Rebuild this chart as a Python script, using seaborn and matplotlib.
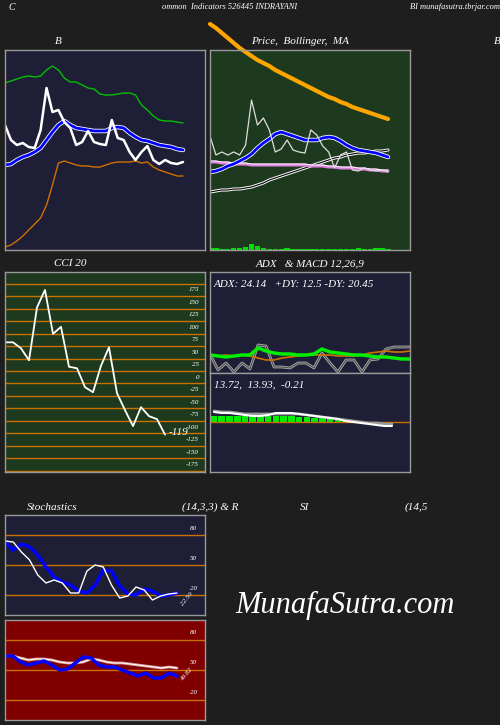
import matplotlib
matplotlib.use("Agg")
import matplotlib.pyplot as plt
import seaborn as sns
import numpy as np
import pandas as pd

sns.set_theme(style="dark")
plt.rcParams['font.family'] = ['Liberation Serif', 'DejaVu Serif']

# ---------------- data ----------------
boll_price = [125,110,105,107,103,102,120,162,138,140,128,122,105,108,119,108,106,105,130,112,110,98,90,98,104,90,86,90,87,86,88]
boll_upper = [167,169,171,173,174,173,174,180,184,180,172,168,168,165,162,161,156,155,155,156,157,157,155,145,140,134,130,129,129,128,127]
boll_mid = [85,86,90,93,95,98,102,110,118,125,129,125,122,121,120,119,119,119,122,123,122,117,113,110,109,107,105,104,103,101,100]
boll_lower = [3,5,9,14,20,26,32,45,65,87,89,87,85,84,84,83,83,85,87,88,88,88,89,87,88,83,80,78,76,74,74]

pr_price = [114,95,98,95,98,95,105,150,125,132,120,98,101,110,100,98,97,120,115,104,98,82,95,98,80,79,82,80,79,80,78]
pr_ma_long = [226,222,217,212,207,202,198,194,190,187,184,180,177,174,171,168,165,162,159,156,153,151,148,146,143,141,139,137,135,133,131]
pr_ma_mid = [78,79,81,84,86,89,92,96,102,107,111,116,118,116,114,112,110,110,110,112,113,112,109,105,102,100,99,98,97,95,93]
pr_ma_pink = [88,88,87,87,86,86,86,85,85,85,85,85,85,85,85,85,85,84,84,84,83,83,82,82,82,81,81,80,80,79,79]
pr_ma_black = [58,59,60,60,61,61,62,63,65,67,70,72,74,76,78,80,82,84,86,88,90,92,93,95,96,97,97,98,99,99,100]
volume = [2,2,1,1,2,2,3,6,4,2,1,1,1,2,1,1,1,1,1,1,1,1,1,1,1,2,1,1,2,2,1]

cci = [70,70,58,34,140,175,87,101,21,18,-20,-30,23,60,-32,-66,-98,-60,-78,-84,-115]
cci_ticks = [175,150,125,100,75,50,25,0,-25,-50,-75,-100,-125,-150,-175]

adx_dx = [19,3,10,1,10,4,28,27,6,6,5,10,10,5,20,10,1,13,13,1,13,14,24,26,26,26]
adx_green = [18,17,16,17,18,18,25,22,20,19,19,18,18,19,24,21,20,19,18,18,17,16,16,15,14,14]
adx_orange = [17,17,18,17,18,17,15,13,13,15,16,17,18,18,18,18,17,17,17,18,20,21,22,21,21,22]

macd = [10,9,9,8,7,6,6,7,9,9,9,8,7,6,5,4,3,1,0,-1,-2,-3,-4,-4]
macd_signal = [11,10,10,9,8,8,8,8,8,8,8,8,7,6,5,4,3,2,1,0,-1,-1,-2,-2]
macd_hist = [6,6,6,6,6,6,6,6,6,6,6,5,5,4,4,3,2,1,1,0,0,0,0,0]

stoch_k = [74,73,63,55,40,32,35,32,22,22,44,50,48,30,17,19,28,25,15,19,21,22]
stoch_d = [73,65,71,68,60,48,38,33,30,24,22,30,45,44,29,21,20,26,24,19,20,22]
rsi = [64,64,58,55,57,59,55,50,51,57,63,62,55,53,53,50,47,44,47,42,42,47,44]
rsi_smooth = [64,64,62,60,61,61,60,58,57,57,58,61,60,58,57,57,56,55,54,53,52,53,52]

BG = '#1e1e1e'
NAVY = '#1e1e36'
GREEN_BG = '#1e3a1e'
ORANGE = '#c87000'
W, H = 500, 725

fig = plt.figure(figsize=(5, 7.25), dpi=100, facecolor=BG)

def ax_at(x0, y0, x1, y1, bg):
    ax = fig.add_axes([x0 / W, 1 - y1 / H, (x1 - x0) / W, (y1 - y0) / H])
    ax.set_facecolor(bg)
    ax.set_xticks([]); ax.set_yticks([])
    for s in ax.spines.values():
        s.set_color('#999999'); s.set_linewidth(1)
    return ax

def ftext(x, y, s, size=8, ha='center', **kw):
    fig.text(x / W, 1 - y / H, s, color='white', fontsize=size, style='italic', ha=ha, va='center', **kw)

# titles
ftext(8, 7, 'C', 7, ha='left')
ftext(230, 7, 'ommon  Indicators 526445 INDRAYANI', 6)
ftext(410, 7, 'BI munafasutra.tbrjar.com', 6, ha='left')
ftext(58, 42, 'B', 8)
ftext(300, 42, 'Price,  Bollinger,  MA', 8)
ftext(494, 42, 'B', 8, ha='left')
ftext(70, 264, 'CCI 20', 8)
ftext(310, 264, 'ADX   & MACD 12,26,9', 8)
ftext(52, 507, 'Stochastics', 8)
ftext(210, 507, '(14,3,3) & R', 8)
ftext(305, 507, 'SI', 8)
ftext(405, 507, '(14,5', 8, ha='left')

# Bollinger
ax = ax_at(5, 50, 205, 250, NAVY)
xb = np.arange(len(boll_price))
sns.lineplot(x=xb, y=boll_upper, ax=ax, color='#00c000', lw=1)
sns.lineplot(x=xb, y=boll_lower, ax=ax, color='#d07000', lw=1)
sns.lineplot(x=xb, y=boll_mid, ax=ax, color='white', lw=3.2)
sns.lineplot(x=xb, y=boll_mid, ax=ax, color='#0000ff', lw=2)
sns.lineplot(x=xb, y=boll_price, ax=ax, color='white', lw=1.8)
ax.set_xlim(0, 30 * 200 / 178); ax.set_ylim(0, 200)
ax.set_xticks([]); ax.set_yticks([])

# Price
ax = ax_at(210, 50, 410, 250, GREEN_BG)
xp = np.arange(len(pr_price))
ax.bar(xp, volume, width=0.9, color='#00dd00', linewidth=0)
sns.lineplot(x=xp, y=pr_ma_long, ax=ax, color='#ffa500', lw=3, clip_on=False)
sns.lineplot(x=xp, y=pr_ma_black, ax=ax, color='white', lw=2.2)
sns.lineplot(x=xp, y=pr_ma_black, ax=ax, color='black', lw=0.8)
sns.lineplot(x=xp, y=pr_ma_pink, ax=ax, color='#e080e0', lw=2.2)
sns.lineplot(x=xp, y=[v + 1 for v in pr_ma_pink], ax=ax, color='white', lw=0.7)
sns.lineplot(x=xp, y=pr_ma_mid, ax=ax, color='white', lw=3.2)
sns.lineplot(x=xp, y=pr_ma_mid, ax=ax, color='#0000ff', lw=2)
sns.lineplot(x=xp, y=pr_price, ax=ax, color='#dddddd', lw=0.9)
ax.set_xlim(0, 30 * 200 / 178); ax.set_ylim(0, 200)
ax.set_xticks([]); ax.set_yticks([])

# CCI
ax = ax_at(5, 272, 205, 472, GREEN_BG)
for v in cci_ticks:
    ax.axhline(v + 12.5, color=ORANGE, lw=1)
    ax.text(0.97, v, str(v), transform=ax.get_yaxis_transform(), color='white',
            fontsize=5, style='italic', ha='right', va='center')
ax.axhline(cci_ticks[-1] - 12.5, color=ORANGE, lw=1)
xc = np.arange(len(cci))
sns.lineplot(x=xc, y=cci, ax=ax, color='white', lw=1.3)
ax.set_xlim(0, 20 * 200 / 160); ax.set_ylim(-190, 211)
ax.text(20.4, -110, '-119', color='white', fontsize=8, style='italic', va='center')
ax.set_xticks([]); ax.set_yticks([])

# ADX
ax = ax_at(210, 272, 410, 373, NAVY)
xa = np.arange(len(adx_dx))
sns.lineplot(x=xa, y=adx_dx, ax=ax, color='#aaaaaa', lw=2)
sns.lineplot(x=xa, y=adx_dx, ax=ax, color='#444444', lw=0.7)
sns.lineplot(x=xa, y=adx_orange, ax=ax, color='#d07000', lw=1.2)
sns.lineplot(x=xa, y=adx_green, ax=ax, color='#00ee00', lw=2.5)
ax.set_xlim(0, 25); ax.set_ylim(0, 101)
ax.text(0.02, 0.88, 'ADX: 24.14   +DY: 12.5 -DY: 20.45', transform=ax.transAxes,
        color='white', fontsize=8, style='italic', va='center')
ax.set_xticks([]); ax.set_yticks([])

# MACD
ax = ax_at(210, 373, 410, 472, NAVY)
xm = np.arange(len(macd))
ax.axhline(0, color=ORANGE, lw=1)
ax.bar(xm, macd_hist, width=0.85, color='#00ee00', linewidth=0)
sns.lineplot(x=xm, y=macd_signal, ax=ax, color='#999999', lw=2)
sns.lineplot(x=xm, y=macd, ax=ax, color='white', lw=1.5)
ax.set_xlim(-23 * 4 / 178, 23 * 200 / 178 - 23 * 4 / 178); ax.set_ylim(-50, 49)
ax.text(0.02, 0.88, '13.72,  13.93,  -0.21', transform=ax.transAxes,
        color='white', fontsize=8, style='italic', va='center')
ax.set_xticks([]); ax.set_yticks([])

# Stochastics
ax = ax_at(5, 515, 205, 615, NAVY)
for v in (80, 50, 20):
    ax.axhline(v, color=ORANGE, lw=1)
    ax.text(0.96, v + 7, str(v), transform=ax.get_yaxis_transform(), color='white',
            fontsize=5, style='italic', ha='right', va='center')
xs = np.arange(len(stoch_k))
sns.lineplot(x=xs, y=stoch_d, ax=ax, color='#0000ff', lw=2.5)
sns.lineplot(x=xs, y=stoch_k, ax=ax, color='white', lw=1)
ax.set_xlim(0, 21 * 200 / 172); ax.set_ylim(0, 100)
ax.text(21.4, 16, '22.59', color='white', fontsize=5, style='italic', rotation=50, va='center')
ax.set_xticks([]); ax.set_yticks([])

# RSI
ax = ax_at(5, 620, 205, 720, '#800000')
for v in (80, 50, 20):
    ax.axhline(v, color=ORANGE, lw=1)
    ax.text(0.96, v + 7, str(v), transform=ax.get_yaxis_transform(), color='white',
            fontsize=5, style='italic', ha='right', va='center')
xr = np.arange(len(rsi))
sns.lineplot(x=xr, y=rsi_smooth, ax=ax, color='#e0a0a0', lw=2)
sns.lineplot(x=xr, y=rsi_smooth, ax=ax, color='white', lw=0.7)
sns.lineplot(x=xr, y=rsi, ax=ax, color='#0000ff', lw=2.5)
ax.set_xlim(0, 22 * 200 / 172); ax.set_ylim(0, 100)
ax.text(22.4, 46, '49.82', color='white', fontsize=5, style='italic', rotation=50, va='center')
ax.set_xticks([]); ax.set_yticks([])

# watermark
fig.text(345 / W, 1 - 605 / H, 'MunafaSutra.com', color='white', fontsize=22,
         style='italic', ha='center', va='center')

fig.savefig('out.png', dpi=100, facecolor=BG)
